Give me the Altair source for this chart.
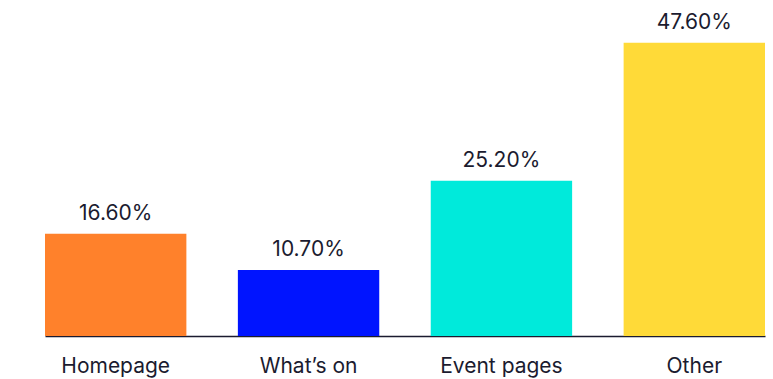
import altair as alt
import pandas as pd

categories = ["Homepage", "What\u2019s on", "Event pages", "Other"]
values = [16.6, 10.7, 25.2, 47.6]
labels = ["16.60%", "10.70%", "25.20%", "47.60%"]
colors = ["#FF812B", "#0014FF", "#00EADB", "#FFDA38"]

df = pd.DataFrame({"cat": categories, "val": values, "lab": labels})

x = alt.X("cat:N", sort=categories,
          scale=alt.Scale(paddingInner=0.267, paddingOuter=0),
          axis=alt.Axis(title=None, labelAngle=0, ticks=False, domain=True,
                        domainColor="#1b1b2f", domainWidth=1.5,
                        labelFont="Inter", labelFontSize=21, labelColor="#1b1b2f",
                        labelPadding=19, grid=False))
y = alt.Y("val:Q", scale=alt.Scale(domain=[0, 50]), axis=None)

bars = alt.Chart(df).mark_bar().encode(
    x=x, y=y,
    color=alt.Color("cat:N", sort=categories,
                    scale=alt.Scale(domain=categories, range=colors), legend=None),
)
text = alt.Chart(df).mark_text(font="Inter", fontSize=21, color="#1b1b2f",
                               baseline="alphabetic", dy=-14).encode(
    x=alt.X("cat:N", sort=categories), y=y, text="lab:N")

chart = (bars + text).properties(
    width=720, height=308,
    background="white",
    autosize=alt.AutoSizeParams(type="none"),
    padding={"left": 45, "top": 28, "right": 8, "bottom": 43},
).configure_view(strokeWidth=0, stroke=None)

chart.save("out.html", embed_options={"renderer": "svg", "actions": False})
